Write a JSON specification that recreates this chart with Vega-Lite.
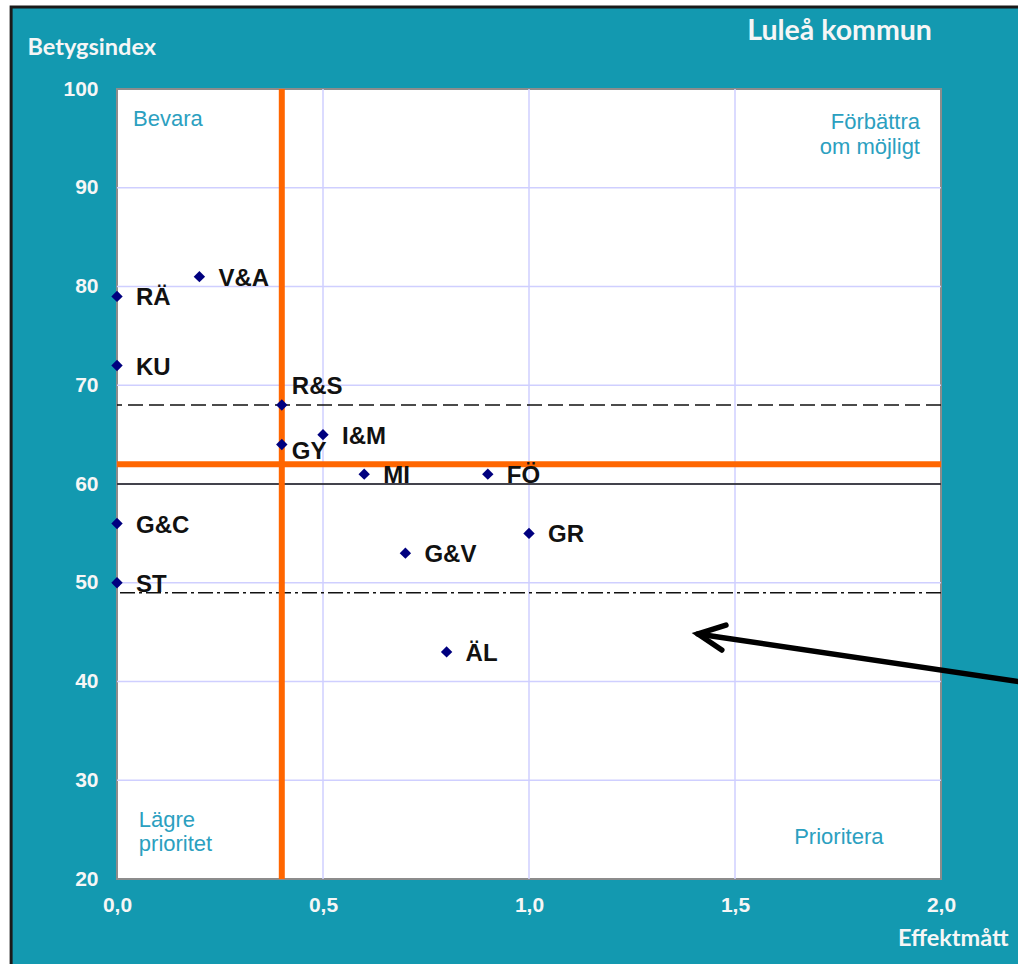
{
  "$schema": "https://vega.github.io/schema/vega-lite/v6.json",
  "width": 824,
  "height": 790,
  "autosize": {"type": "none"},
  "padding": {"left": 117, "top": 89, "right": 77, "bottom": 85},
  "background": "white",
  "config": {"view": {"stroke": null}},
  "datasets": {
    "points": [
      {"label": "RÄ", "x": 0, "y": 79},
      {"label": "V&A", "x": 0.2, "y": 81},
      {"label": "KU", "x": 0, "y": 72},
      {"label": "R&S", "x": 0.4, "y": 68},
      {"label": "I&M", "x": 0.5, "y": 65},
      {"label": "GY", "x": 0.4, "y": 64},
      {"label": "MI", "x": 0.6, "y": 61},
      {"label": "FÖ", "x": 0.9, "y": 61},
      {"label": "G&C", "x": 0, "y": 56},
      {"label": "GR", "x": 1.0, "y": 55},
      {"label": "G&V", "x": 0.7, "y": 53},
      {"label": "ST", "x": 0, "y": 50},
      {"label": "ÄL", "x": 0.8, "y": 43}
    ],
    "gridx": [{"v": 0.5}, {"v": 1}, {"v": 1.5}],
    "gridy": [{"v": 30}, {"v": 40}, {"v": 50}, {"v": 60}, {"v": 70}, {"v": 80}, {"v": 90}],
    "arrow": [
      {"s": "shaft", "o": 1, "x": 1.41, "y": 44.81},
      {"s": "shaft", "o": 2, "x": 2.3, "y": 39.29},
      {"s": "head", "o": 1, "x": 1.478, "y": 45.72},
      {"s": "head", "o": 2, "x": 1.41, "y": 44.81},
      {"s": "head", "o": 3, "x": 1.468, "y": 43.19}
    ]
  },
  "layer": [
    {
      "data": {"values": [{}]},
      "mark": {"type": "rect", "fill": "#1399B0", "stroke": "#1a1a1a", "strokeWidth": 3, "clip": false},
      "encoding": {
        "x": {
          "datum": -0.257, "type": "quantitative",
          "scale": {"domain": [0, 2], "nice": false, "zero": false},
          "axis": {
            "values": [0, 0.5, 1, 1.5, 2],
            "labelExpr": "replace(format(datum.value,'.1f'),'.',',')",
            "grid": false, "domain": false, "ticks": false,
            "labelFont": "Liberation Sans", "labelFontWeight": "bold", "labelFontSize": 21,
            "labelColor": "#f6f6f6", "labelPadding": 15, "labelFlush": false, "labelOverlap": false,
            "title": "Effektmått", "titleFont": "Lato", "titleFontSize": 23.5, "titleFontWeight": "bold",
            "titleColor": "#f6f6f6", "titleX": 891, "titleY": 66, "titleAlign": "right",
            "titleBaseline": "alphabetic", "zindex": 1
          }
        },
        "x2": {"datum": 2.6},
        "y": {
          "datum": 108.3, "type": "quantitative",
          "scale": {"domain": [20, 100], "nice": false, "zero": false},
          "axis": {
            "values": [20, 30, 40, 50, 60, 70, 80, 90, 100],
            "grid": false, "domain": false, "ticks": false,
            "labelFont": "Liberation Sans", "labelFontWeight": "bold", "labelFontSize": 21,
            "labelColor": "#f6f6f6", "labelPadding": 19, "labelOverlap": false, "labelFlush": false,
            "title": "Betygsindex", "titleFont": "Lato", "titleFontSize": 23.5, "titleFontWeight": "bold",
            "titleColor": "#f6f6f6", "titleAngle": 0, "titleX": -90, "titleY": -35,
            "titleAlign": "left", "titleBaseline": "alphabetic", "zindex": 1
          }
        },
        "y2": {"datum": 10}
      }
    },
    {
      "data": {"values": [{}]},
      "mark": {"type": "rect", "fill": "white", "stroke": "#8c8c8c", "strokeWidth": 2, "clip": false},
      "encoding": {
        "x": {"datum": 0, "type": "quantitative"},
        "x2": {"datum": 2},
        "y": {"datum": 20, "type": "quantitative"},
        "y2": {"datum": 100}
      }
    },
    {
      "data": {"name": "gridx"},
      "mark": {"type": "rule", "color": "#CFCFFF", "strokeWidth": 1.5},
      "encoding": {"x": {"field": "v", "type": "quantitative"}}
    },
    {
      "data": {"name": "gridy"},
      "mark": {"type": "rule", "color": "#CFCFFF", "strokeWidth": 1.5},
      "encoding": {"y": {"field": "v", "type": "quantitative"}}
    },
    {
      "data": {"values": [{}]},
      "mark": {"type": "rule", "color": "#111111", "strokeWidth": 1.5},
      "encoding": {"y": {"datum": 60, "type": "quantitative"}}
    },
    {
      "data": {"values": [{}]},
      "mark": {"type": "rule", "color": "#111111", "strokeWidth": 1.5, "strokeDash": [15, 6]},
      "encoding": {"y": {"datum": 68, "type": "quantitative"}}
    },
    {
      "data": {"values": [{}]},
      "mark": {"type": "rule", "color": "#111111", "strokeWidth": 1.5, "strokeDash": [15, 4, 3, 4]},
      "encoding": {"y": {"datum": 49, "type": "quantitative"}}
    },
    {
      "data": {"values": [{}]},
      "mark": {"type": "rule", "color": "#FF6600", "strokeWidth": 6},
      "encoding": {"x": {"datum": 0.4, "type": "quantitative"}}
    },
    {
      "data": {"values": [{}]},
      "mark": {"type": "rule", "color": "#FF6600", "strokeWidth": 6},
      "encoding": {"y": {"datum": 62, "type": "quantitative"}}
    },
    {
      "data": {"name": "points"},
      "mark": {"type": "point", "shape": "diamond", "filled": true, "size": 130, "color": "#00007F", "opacity": 1, "clip": false},
      "encoding": {
        "x": {"field": "x", "type": "quantitative"},
        "y": {"field": "y", "type": "quantitative"}
      }
    },
    {
      "data": {"name": "points"},
      "transform": [{"filter": "datum.label !== 'R&S' && datum.label !== 'GY'"}],
      "mark": {"type": "text", "align": "left", "baseline": "middle", "dx": 19, "dy": 2, "font": "Liberation Sans", "fontWeight": "bold", "fontSize": 24, "color": "#111111", "clip": false},
      "encoding": {
        "x": {"field": "x", "type": "quantitative"},
        "y": {"field": "y", "type": "quantitative"},
        "text": {"field": "label", "type": "nominal"}
      }
    },
    {
      "data": {"name": "points"},
      "transform": [{"filter": "datum.label === 'R&S'"}],
      "mark": {"type": "text", "align": "left", "baseline": "middle", "dx": 10, "dy": -18, "font": "Liberation Sans", "fontWeight": "bold", "fontSize": 24, "color": "#111111", "clip": false},
      "encoding": {
        "x": {"field": "x", "type": "quantitative"},
        "y": {"field": "y", "type": "quantitative"},
        "text": {"field": "label", "type": "nominal"}
      }
    },
    {
      "data": {"name": "points"},
      "transform": [{"filter": "datum.label === 'GY'"}],
      "mark": {"type": "text", "align": "left", "baseline": "middle", "dx": 10, "dy": 7, "font": "Liberation Sans", "fontWeight": "bold", "fontSize": 24, "color": "#111111", "clip": false},
      "encoding": {
        "x": {"field": "x", "type": "quantitative"},
        "y": {"field": "y", "type": "quantitative"},
        "text": {"field": "label", "type": "nominal"}
      }
    },
    {
      "data": {"values": [
        {"t": "Bevara", "x": 0.039, "y": 96.96},
        {"t": "Lägre\nprioritet", "x": 0.053, "y": 26.0}
      ]},
      "mark": {"type": "text", "align": "left", "baseline": "middle", "lineBreak": "\n", "lineHeight": 24, "font": "Liberation Sans", "fontSize": 22, "color": "#2BA0C0"},
      "encoding": {
        "x": {"field": "x", "type": "quantitative"},
        "y": {"field": "y", "type": "quantitative"},
        "text": {"field": "t", "type": "nominal"}
      }
    },
    {
      "data": {"values": [{"t": "Förbättra\nom möjligt", "x": 1.949, "y": 96.65}]},
      "mark": {"type": "text", "align": "right", "baseline": "middle", "lineBreak": "\n", "lineHeight": 25, "font": "Liberation Sans", "fontSize": 22, "color": "#2BA0C0"},
      "encoding": {
        "x": {"field": "x", "type": "quantitative"},
        "y": {"field": "y", "type": "quantitative"},
        "text": {"field": "t", "type": "nominal"}
      }
    },
    {
      "data": {"values": [{"t": "Prioritera", "x": 1.752, "y": 24.25}]},
      "mark": {"type": "text", "align": "center", "baseline": "middle", "font": "Liberation Sans", "fontSize": 22, "color": "#2BA0C0"},
      "encoding": {
        "x": {"field": "x", "type": "quantitative"},
        "y": {"field": "y", "type": "quantitative"},
        "text": {"field": "t", "type": "nominal"}
      }
    },
    {
      "data": {"values": [{"t": "Luleå kommun", "x": 1.978, "y": 104.96}]},
      "mark": {"type": "text", "align": "right", "baseline": "alphabetic", "font": "Lato", "fontWeight": "bold", "fontSize": 28.5, "color": "#f6f6f6", "clip": false},
      "encoding": {
        "x": {"field": "x", "type": "quantitative"},
        "y": {"field": "y", "type": "quantitative"},
        "text": {"field": "t", "type": "nominal"}
      }
    },
    {
      "data": {"name": "arrow"},
      "mark": {"type": "line", "color": "black", "strokeWidth": 5.5, "strokeCap": "round", "strokeJoin": "miter", "clip": false},
      "encoding": {
        "x": {"field": "x", "type": "quantitative"},
        "y": {"field": "y", "type": "quantitative"},
        "detail": {"field": "s", "type": "nominal"},
        "order": {"field": "o", "type": "quantitative"}
      }
    }
  ]
}
